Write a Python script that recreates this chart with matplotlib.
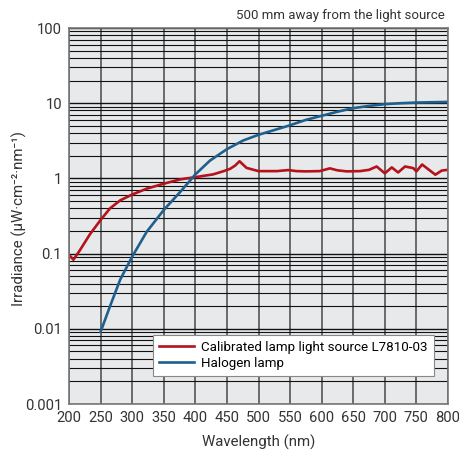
import matplotlib
matplotlib.use("Agg")
import matplotlib.pyplot as plt
from matplotlib.ticker import FixedLocator, FixedFormatter, LogLocator, NullFormatter

plt.rcParams['font.family'] = ['Roboto', 'DejaVu Sans']

# calibrated lamp light source L7810-03
red_x = [200, 207, 217, 233, 250, 265, 281, 300, 323, 350, 376, 400, 428, 445, 455, 463,
         470, 481, 500, 529, 547, 560, 575, 597, 613, 625, 640, 661, 675, 687, 700, 711,
         721, 732, 745, 750, 759, 780, 790, 800]
red_y = [0.096, 0.083, 0.11, 0.18, 0.28, 0.40, 0.51, 0.61, 0.73, 0.85, 0.97, 1.04, 1.13,
         1.25, 1.34, 1.48, 1.69, 1.38, 1.25, 1.25, 1.29, 1.25, 1.24, 1.25, 1.36, 1.28, 1.24,
         1.25, 1.30, 1.44, 1.17, 1.40, 1.20, 1.44, 1.37, 1.24, 1.53, 1.12, 1.27, 1.30]

# halogen lamp
blue_x = [250, 265, 281, 300, 323, 350, 376, 400, 423, 450, 476, 500, 529, 547,
          575, 600, 625, 650, 675, 700, 725, 750, 775, 800]
blue_y = [0.0091, 0.020, 0.045, 0.091, 0.195, 0.38, 0.66, 1.13, 1.72, 2.45, 3.2, 3.8, 4.5,
          5.0, 6.0, 6.8, 7.7, 8.6, 9.2, 9.7, 10.0, 10.2, 10.3, 10.4]

x_ticks = list(range(200, 801, 50))
y_ticks = [0.001, 0.01, 0.1, 1, 10, 100]
y_labels = ['0.001', '0.01', '0.1', '1', '10', '100']

fig = plt.figure(figsize=(4.59, 4.57), dpi=100)
ax = fig.add_axes([69 / 459, 53 / 457, 379 / 459, 376 / 457])
ax.set_facecolor('#e8e9eb')

ax.set_yscale('log')
ax.set_xlim(200, 800)
ax.set_ylim(0.001, 100)

ax.xaxis.set_major_locator(FixedLocator(x_ticks))
ax.yaxis.set_major_locator(FixedLocator(y_ticks))
ax.yaxis.set_major_formatter(FixedFormatter(y_labels))
ax.yaxis.set_minor_locator(LogLocator(base=10, subs=range(2, 10)))
ax.yaxis.set_minor_formatter(NullFormatter())

ax.grid(True, axis='x', which='major', color='#555555', lw=1.2)
ax.grid(True, axis='y', which='major', color='#111111', lw=1.0)
ax.grid(True, axis='y', which='minor', color='#111111', lw=0.8)
ax.set_axisbelow(True)

ax.tick_params(which='both', length=0, labelsize=10.6, colors='#333333', pad=5)

for s in ax.spines.values():
    s.set_color('#777777')
    s.set_linewidth(1.2)

ax.plot(red_x, red_y, color='#b5121b', lw=1.9, label='Calibrated lamp light source L7810-03')
ax.plot(blue_x, blue_y, color='#1f5f8e', lw=1.9, label='Halogen lamp')

ax.set_xlabel('Wavelength (nm)', fontsize=10.8, color='#333333', labelpad=7)
fig.text(19.5 / 459, 0.521, 'Irradiance (μW·cm⁻²·nm⁻¹)', rotation=90, ha='center',
         va='center', fontsize=10.8, color='#333333')

leg = ax.legend(loc='lower right', bbox_to_anchor=(0.963, 0.075), fontsize=9.6,
                frameon=True, fancybox=False, framealpha=1, edgecolor='#888888',
                handlelength=2.6, borderpad=0.45, labelspacing=0.2, handletextpad=0.55,
                borderaxespad=0)
leg.get_frame().set_linewidth(0.8)

fig.text(0.9695, 0.965, '500 mm away from the light source', ha='right', va='center',
         fontsize=9.5, color='#333333')

fig.savefig('out.png', dpi=100)
